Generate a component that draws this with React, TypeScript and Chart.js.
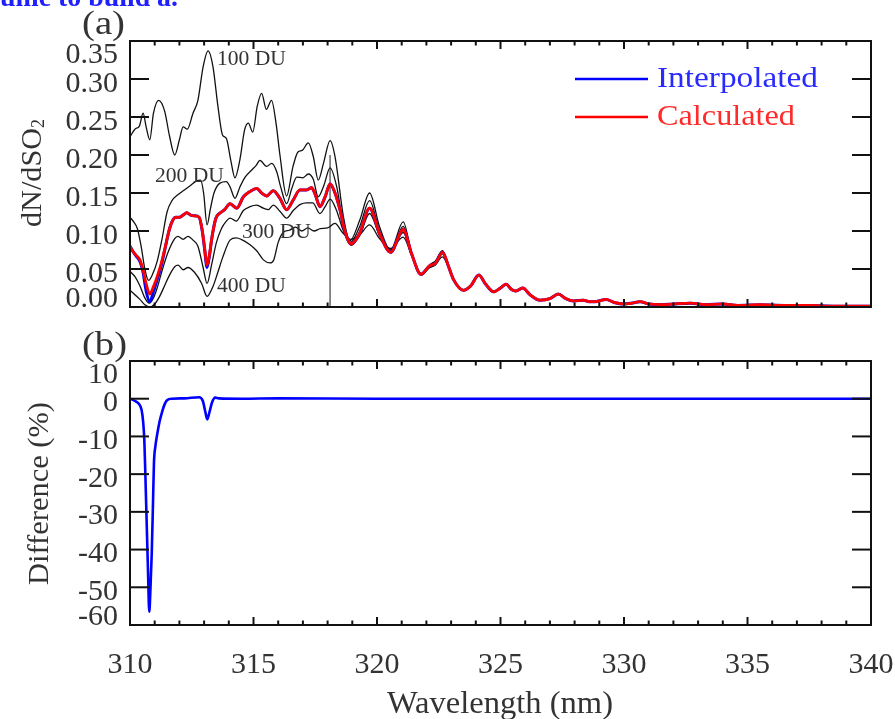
import React, { useEffect, useRef } from "react";
import { Chart, registerables } from "chart.js";

Chart.register(...registerables);

const FONT = '"Liberation Serif", "Times New Roman", Times, serif';
const INK = "#333333";
const AXIS = "#111111";

// ---------------- axis ticks ----------------
const xTicks = [310, 311, 312, 313, 314, 315, 316, 317, 318, 319, 320, 321, 322, 323, 324, 325, 326, 327, 328, 329, 330, 331, 332, 333, 334, 335, 336, 337, 338, 339, 340];
const xMajorTicks = [310, 315, 320, 325, 330, 335, 340];
const xMajorLabels = ["310", "315", "320", "325", "330", "335", "340"];
const yTicksTop = [0, 0.05, 0.1, 0.15, 0.2, 0.25, 0.3, 0.35];
const yLabelsTop = ["0.00", "0.05", "0.10", "0.15", "0.20", "0.25", "0.30", "0.35"];
const yTicksBottom = [-60, -50, -40, -30, -20, -10, 0, 10];
const yLabelsBottom = ["-60", "-50", "-40", "-30", "-20", "-10", "0", "10"];

// ---------------- panel (a) : dN/dSO2 ----------------
const du100: [number, number][] = [
  [310.0, 0.224], [310.2, 0.234], [310.38, 0.238], [310.53, 0.255], [310.66, 0.236], [310.8, 0.22],
  [310.95, 0.255], [311.16, 0.272], [311.4, 0.258], [311.6, 0.225], [311.81, 0.2], [312.0, 0.22],
  [312.15, 0.237], [312.32, 0.234], [312.55, 0.255], [312.75, 0.272], [312.96, 0.316], [313.16, 0.337],
  [313.36, 0.316], [313.56, 0.264], [313.75, 0.226], [313.9, 0.222], [314.08, 0.193], [314.25, 0.17],
  [314.45, 0.194], [314.64, 0.233], [314.79, 0.242], [314.97, 0.23], [315.15, 0.264], [315.33, 0.281],
  [315.52, 0.26], [315.73, 0.272], [315.92, 0.24], [316.07, 0.2], [316.34, 0.146], [316.6, 0.185],
  [316.8, 0.204], [316.97, 0.206], [317.22, 0.216], [317.42, 0.198], [317.62, 0.167], [317.84, 0.19],
  [318.1, 0.219], [318.3, 0.198], [318.64, 0.119], [318.9, 0.087], [319.3, 0.114], [319.7, 0.15],
  [320.1, 0.106], [320.55, 0.075], [321.06, 0.112], [321.4, 0.071], [321.8, 0.043], [322.2, 0.057],
  [322.35, 0.06], [322.65, 0.074], [322.9, 0.053],
];
const du200: [number, number][] = [
  [310.0, 0.118], [310.15, 0.112], [310.3, 0.103], [310.45, 0.08], [310.6, 0.05], [310.75, 0.035],
  [310.9, 0.042], [311.1, 0.06], [311.3, 0.09], [311.5, 0.125], [311.7, 0.14], [311.95, 0.148],
  [312.2, 0.154], [312.45, 0.16], [312.7, 0.166], [312.86, 0.167], [312.98, 0.15], [313.12, 0.108],
  [313.26, 0.13], [313.4, 0.15], [313.64, 0.163], [313.9, 0.165], [314.05, 0.158], [314.25, 0.143],
  [314.45, 0.158], [314.66, 0.171], [314.92, 0.18], [315.1, 0.186], [315.26, 0.193], [315.53, 0.185],
  [315.74, 0.189], [315.94, 0.178], [316.1, 0.158], [316.34, 0.136], [316.55, 0.156], [316.75, 0.171],
  [317.0, 0.17], [317.22, 0.175], [317.42, 0.168], [317.62, 0.145], [317.85, 0.16], [318.1, 0.183],
  [318.37, 0.158], [318.64, 0.108], [318.92, 0.085], [319.3, 0.106], [319.7, 0.14], [320.1, 0.1],
  [320.55, 0.073], [321.06, 0.106], [321.4, 0.07], [321.8, 0.042], [322.2, 0.056], [322.35, 0.058],
  [322.65, 0.073], [322.9, 0.054],
];
const du300: [number, number][] = [
  [310.0, 0.047], [310.2, 0.04], [310.4, 0.028], [310.6, 0.012], [310.78, 0.005], [310.95, 0.012],
  [311.1, 0.025], [311.3, 0.048], [311.54, 0.072], [311.81, 0.09], [311.94, 0.093], [312.15, 0.089],
  [312.35, 0.093], [312.55, 0.088], [312.75, 0.08], [312.96, 0.052], [313.12, 0.031], [313.3, 0.055],
  [313.5, 0.085], [313.7, 0.103], [313.9, 0.113], [314.05, 0.117], [314.3, 0.113], [314.59, 0.127],
  [314.86, 0.132], [315.13, 0.134], [315.4, 0.13], [315.6, 0.128], [315.8, 0.134], [316.07, 0.126],
  [316.34, 0.117], [316.61, 0.127], [316.9, 0.135], [317.15, 0.137], [317.4, 0.137], [317.69, 0.123],
  [317.9, 0.132], [318.1, 0.142], [318.35, 0.128], [318.64, 0.1], [318.95, 0.081], [319.3, 0.094],
  [319.7, 0.123], [320.1, 0.094], [320.55, 0.072], [321.06, 0.098], [321.4, 0.069], [321.78, 0.043],
  [322.15, 0.054], [322.35, 0.056], [322.65, 0.07], [322.9, 0.053],
];
const du400: [number, number][] = [
  [310.0, 0.022], [310.2, 0.016], [310.4, 0.01], [310.6, 0.003], [310.8, 0.0], [311.0, 0.004],
  [311.2, 0.014], [311.4, 0.028], [311.6, 0.042], [311.81, 0.053], [311.95, 0.055], [312.15, 0.049],
  [312.35, 0.052], [312.6, 0.046], [312.9, 0.031], [313.12, 0.014], [313.36, 0.027], [313.55, 0.045],
  [313.75, 0.065], [314.05, 0.088], [314.3, 0.091], [314.5, 0.089], [314.86, 0.082], [315.13, 0.074],
  [315.4, 0.062], [315.67, 0.058], [315.82, 0.062], [316.0, 0.085], [316.2, 0.098], [316.45, 0.101],
  [316.7, 0.105], [316.95, 0.1], [317.2, 0.104], [317.45, 0.1], [317.7, 0.103], [318.0, 0.104],
  [318.3, 0.11], [318.6, 0.098], [318.95, 0.089], [319.3, 0.095], [319.7, 0.108], [320.1, 0.09],
  [320.55, 0.077], [321.06, 0.092], [321.4, 0.068], [321.78, 0.044], [322.15, 0.052], [322.35, 0.055],
  [322.65, 0.066], [322.9, 0.052],
];
const calculated: [number, number][] = [
  [310.0, 0.08], [310.12, 0.073], [310.25, 0.068], [310.4, 0.062], [310.52, 0.05], [310.66, 0.03],
  [310.8, 0.017], [310.95, 0.027], [311.1, 0.04], [311.27, 0.058], [311.42, 0.078], [311.56, 0.098],
  [311.7, 0.112], [311.85, 0.118], [312.0, 0.118], [312.15, 0.121], [312.3, 0.124], [312.45, 0.121],
  [312.6, 0.12], [312.8, 0.118], [312.93, 0.1], [313.02, 0.078], [313.12, 0.055], [313.22, 0.07],
  [313.32, 0.092], [313.48, 0.117], [313.66, 0.124], [313.83, 0.128], [314.05, 0.136], [314.32, 0.13],
  [314.59, 0.145], [314.86, 0.152], [315.13, 0.156], [315.33, 0.15], [315.53, 0.146], [315.8, 0.153],
  [316.07, 0.143], [316.34, 0.128], [316.61, 0.141], [316.88, 0.154], [317.15, 0.154], [317.35, 0.157],
  [317.5, 0.148], [317.69, 0.132], [317.9, 0.145], [318.1, 0.162], [318.3, 0.15], [318.5, 0.128],
  [318.7, 0.1], [318.95, 0.083], [319.3, 0.097], [319.7, 0.13], [320.1, 0.097], [320.55, 0.072],
  [321.06, 0.102], [321.4, 0.07], [321.78, 0.043], [322.15, 0.055], [322.35, 0.057], [322.65, 0.072],
  [322.9, 0.053],
];
const interpolated: [number, number][] = [
  [310.0, 0.08], [310.12, 0.073], [310.25, 0.067], [310.4, 0.06], [310.52, 0.047], [310.66, 0.02],
  [310.8, 0.007], [310.95, 0.02], [311.1, 0.036], [311.27, 0.055], [311.42, 0.077], [311.56, 0.098],
  [311.7, 0.112], [311.85, 0.118], [312.0, 0.118], [312.15, 0.121], [312.3, 0.124], [312.45, 0.121],
  [312.6, 0.12], [312.8, 0.118], [312.93, 0.099], [313.02, 0.076], [313.12, 0.052], [313.22, 0.068],
  [313.32, 0.092], [313.48, 0.117], [313.66, 0.124], [313.83, 0.128], [314.05, 0.136], [314.32, 0.13],
  [314.59, 0.145], [314.86, 0.152], [315.13, 0.156], [315.33, 0.15], [315.53, 0.146], [315.8, 0.153],
  [316.07, 0.143], [316.34, 0.128], [316.61, 0.141], [316.88, 0.154], [317.15, 0.154], [317.35, 0.157],
  [317.5, 0.148], [317.69, 0.132], [317.9, 0.145], [318.1, 0.162], [318.3, 0.15], [318.5, 0.128],
  [318.7, 0.1], [318.95, 0.083], [319.3, 0.097], [319.7, 0.13], [320.1, 0.097], [320.55, 0.072],
  [321.06, 0.102], [321.4, 0.07], [321.78, 0.043], [322.15, 0.055], [322.35, 0.057], [322.65, 0.072],
  [322.9, 0.053],
];
// all curves coincide beyond ~323 nm
const commonTail: [number, number][] = [
  [323.1, 0.036], [323.5, 0.022], [323.8, 0.028], [324.12, 0.042], [324.4, 0.03], [324.72, 0.02],
  [325.0, 0.025], [325.22, 0.03], [325.45, 0.023], [325.62, 0.021], [325.9, 0.025], [326.2, 0.016],
  [326.6, 0.009], [327.0, 0.011], [327.34, 0.017], [327.65, 0.011], [327.95, 0.008], [328.35, 0.009],
  [328.6, 0.007], [328.83, 0.007], [329.27, 0.01], [329.6, 0.006], [329.97, 0.004], [330.3, 0.005],
  [330.65, 0.007], [331.0, 0.004], [331.5, 0.003], [332.0, 0.004], [332.7, 0.005], [333.3, 0.003],
  [334.0, 0.004], [334.6, 0.002], [335.5, 0.003], [336.5, 0.002], [337.5, 0.002], [338.5, 0.001],
  [340.0, 0.001],
];
const markerLine: [number, number][] = [[318.1, 0], [318.1, 0.2]];
const duLabels = ["100 DU", "200 DU", "300 DU", "400 DU"];
const duLabelAnchors: [number, number][] = [[313.52, 0.318], [311.01, 0.1645], [314.53, 0.0908], [313.52, 0.0197]];
const legendNames = ["Interpolated", "Calculated"];

// ---------------- panel (b) : difference (%) ----------------
const difference: [number, number][] = [
  [310.0, 0], [310.2, -0.6], [310.35, -1.3], [310.47, -3], [310.53, -6], [310.58, -11], [310.63, -22],
  [310.68, -34], [310.73, -46], [310.78, -56.5], [310.83, -50], [310.88, -41], [310.93, -28],
  [310.97, -17], [311.03, -12.5], [311.1, -9.5], [311.2, -6], [311.3, -3.5], [311.4, -1.5],
  [311.5, -0.4], [311.7, 0], [312.2, 0.1], [312.8, 0.4], [312.95, -0.6], [313.05, -3.5], [313.13, -5.5],
  [313.22, -3.5], [313.32, -1], [313.45, 0.3], [313.6, 0.1], [314.5, 0], [316, 0.1], [320, 0],
  [325, 0], [330, 0], [335, 0], [340, 0],
];

// ---------------- helpers ----------------
const toXY = (pts: [number, number][]) => pts.map(([x, y]) => ({ x, y }));

function drawText(
  ctx: CanvasRenderingContext2D,
  text: string,
  x: number,
  y: number,
  size: number,
  color: string,
  opts: { width?: number; align?: "left" | "right" | "center"; rotate?: number; bold?: boolean } = {}
) {
  ctx.save();
  ctx.font = `${opts.bold ? "bold " : ""}${size}px ${FONT}`;
  ctx.fillStyle = color;
  ctx.textBaseline = "alphabetic";
  ctx.textAlign = "left";
  const w = ctx.measureText(text).width;
  const sx = opts.width ? opts.width / w : 1;
  ctx.translate(x, y);
  if (opts.rotate) ctx.rotate(opts.rotate);
  let dx = 0;
  if (opts.align === "right") dx = -w * sx;
  else if (opts.align === "center") dx = (-w * sx) / 2;
  ctx.translate(dx, 0);
  ctx.scale(sx, 1);
  ctx.fillText(text, 0, 0);
  ctx.restore();
}

function line(ctx: CanvasRenderingContext2D, x1: number, y1: number, x2: number, y2: number) {
  ctx.beginPath();
  ctx.moveTo(x1, y1);
  ctx.lineTo(x2, y2);
  ctx.stroke();
}

function drawFrame(chart: any, yTicks: number[], yLabels: string[], withXLabels: boolean) {
  const { ctx, chartArea: a, scales } = chart;
  const xs = scales.x;
  const ys = scales.y;
  ctx.save();
  ctx.strokeStyle = AXIS;
  ctx.lineWidth = 2;
  ctx.lineCap = "butt";
  ctx.strokeRect(a.left, a.top, a.right - a.left, a.bottom - a.top);
  yTicks.forEach((v) => {
    const p = ys.getPixelForValue(v);
    line(ctx, a.left, p, a.left + 19, p);
    line(ctx, a.right, p, a.right - 19, p);
  });
  xTicks.forEach((v) => {
    const p = xs.getPixelForValue(v);
    const L = xMajorTicks.includes(v) ? 8 : 4.5;
    line(ctx, p, a.bottom, p, a.bottom - L);
    line(ctx, p, a.top, p, a.top + L);
  });
  ctx.restore();
  yTicks.forEach((v, i) => {
    const p = ys.getPixelForValue(v);
    const off = i === 0 ? 0 : i === yTicks.length - 1 ? 22 : 12.5;
    drawText(ctx, yLabels[i], 118, p + off, 30, INK, { align: "right" });
  });
  if (withXLabels) {
    xMajorTicks.forEach((v, i) => {
      const p = xs.getPixelForValue(v);
      drawText(ctx, xMajorLabels[i], p, a.bottom + 48, 30, INK, { align: "center" });
    });
  }
}

const baseLine = {
  pointRadius: 0,
  pointHoverRadius: 0,
  fill: false,
  cubicInterpolationMode: "monotone" as const,
};

function topConfig(): any {
  const decor = {
    id: "decorTop",
    afterDraw(chart: any) {
      const { ctx, scales } = chart;
      const xs = scales.x;
      const ys = scales.y;
      drawFrame(chart, yTicksTop, yLabelsTop, false);
      // stray caption fragment at the very top
      drawText(ctx, "ume to build a.", 0, 6, 28, "#1f1fff", { bold: true, width: 178 });
      drawText(ctx, "(a)", 82, 34, 33, INK, { width: 43 });
      // y title
      drawText(ctx, "dN/dSO", 41, 227, 30, INK, { rotate: -Math.PI / 2, width: 99 });
      drawText(ctx, "2", 44, 128, 18, INK, { rotate: -Math.PI / 2 });
      // DU labels
      duLabels.forEach((t, i) => {
        const [lx, ly] = duLabelAnchors[i];
        drawText(ctx, t, xs.getPixelForValue(lx), ys.getPixelForValue(ly), 20, INK, { width: 69 });
      });
      // legend
      ctx.save();
      ctx.lineWidth = 2.5;
      ctx.strokeStyle = "#0000ff";
      line(ctx, 575, 79, 648, 79);
      ctx.strokeStyle = "#ff0000";
      line(ctx, 575, 117, 648, 117);
      ctx.restore();
      drawText(ctx, legendNames[0], 657, 87, 30, "#2a2aff", { width: 161 });
      drawText(ctx, legendNames[1], 657, 125, 30, "#ff2a2a", { width: 138 });
    },
  };
  return {
    type: "line",
    data: {
      datasets: [
        { ...baseLine, label: "Calculated", data: toXY([...calculated, ...commonTail]), borderColor: "#ff0000", borderWidth: 2.8, order: 0 },
        { ...baseLine, label: "Interpolated", data: toXY([...interpolated, ...commonTail]), borderColor: "#0000ff", borderWidth: 3, order: 1 },
        { ...baseLine, label: "100 DU", data: toXY([...du100, ...commonTail]), borderColor: "#111111", borderWidth: 1.3, order: 2 },
        { ...baseLine, label: "200 DU", data: toXY([...du200, ...commonTail]), borderColor: "#111111", borderWidth: 1.3, order: 2 },
        { ...baseLine, label: "300 DU", data: toXY([...du300, ...commonTail]), borderColor: "#111111", borderWidth: 1.3, order: 2 },
        { ...baseLine, label: "400 DU", data: toXY([...du400, ...commonTail]), borderColor: "#111111", borderWidth: 1.3, order: 2 },
        { label: "marker", data: toXY(markerLine), borderColor: "#6e6e6e", borderWidth: 1.6, pointRadius: 0, tension: 0, order: 3 },
      ],
    },
    options: {
      animation: false,
      responsive: false,
      events: [],
      layout: { padding: { left: 130, right: 24, top: 41, bottom: 13 } },
      plugins: { legend: { display: false }, tooltip: { enabled: false } },
      scales: {
        x: { type: "linear", min: 310, max: 340, display: false },
        y: { type: "linear", min: 0, max: 0.35, display: false },
      },
    },
    plugins: [decor],
  };
}

function bottomConfig(): any {
  const decor = {
    id: "decorBottom",
    afterDraw(chart: any) {
      const { ctx } = chart;
      drawFrame(chart, yTicksBottom, yLabelsBottom, true);
      drawText(ctx, "(b)", 82, 35, 33, INK, { width: 45 });
      drawText(ctx, "Difference (%)", 48, 265, 30, INK, { rotate: -Math.PI / 2, width: 183 });
      drawText(ctx, "Wavelength (nm)", 387, 393, 31, INK, { width: 226 });
    },
  };
  return {
    type: "line",
    data: {
      datasets: [
        { ...baseLine, label: "Difference", data: toXY(difference), borderColor: "#0000ff", borderWidth: 2.6 },
      ],
    },
    options: {
      animation: false,
      responsive: false,
      events: [],
      layout: { padding: { left: 130, right: 24, top: 41, bottom: 94 } },
      plugins: { legend: { display: false }, tooltip: { enabled: false } },
      scales: {
        x: { type: "linear", min: 310, max: 340, display: false },
        y: { type: "linear", min: -60, max: 10, display: false },
      },
    },
    plugins: [decor],
  };
}

export default function App() {
  const topRef = useRef<HTMLCanvasElement>(null);
  const botRef = useRef<HTMLCanvasElement>(null);
  useEffect(() => {
    const c1 = new Chart(topRef.current as HTMLCanvasElement, topConfig());
    const c2 = new Chart(botRef.current as HTMLCanvasElement, bottomConfig());
    return () => {
      c1.destroy();
      c2.destroy();
    };
  }, []);
  return (
    <div style={{ position: "absolute", left: 0, top: 0, width: 895, height: 719, background: "#ffffff", overflow: "hidden" }}>
      <canvas ref={topRef} width={895} height={320} style={{ position: "absolute", left: 0, top: 0, width: 895, height: 320 }} />
      <canvas ref={botRef} width={895} height={399} style={{ position: "absolute", left: 0, top: 320, width: 895, height: 399 }} />
    </div>
  );
}
